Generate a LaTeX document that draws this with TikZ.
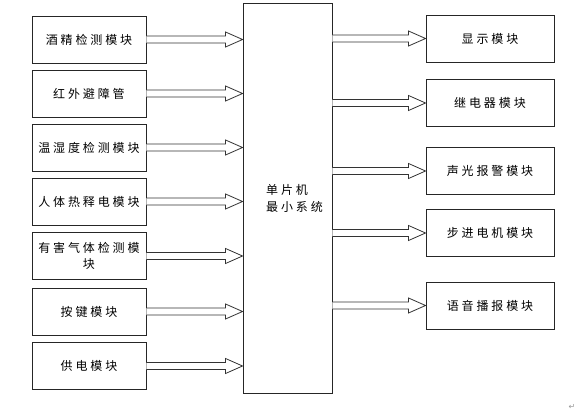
\documentclass[tikz,border=0pt]{standalone}
\usepackage{fontspec}
\newfontfamily\cjk[LetterSpace=24]{Noto Sans CJK SC}
\newfontfamily\dejavu{DejaVu Sans}
\usetikzlibrary{calc}
\newcommand\fatarrow[2]{%
  \draw[arrowline] ($(#1)+(0,3.5)$) -- ($(#2)+(-17,3.5)$) -- ($(#2)+(-17,7.5)$) -- (#2)
    -- ($(#2)+(-17,-7.5)$) -- ($(#2)+(-17,-3.5)$) -- ($(#1)+(0,-3.5)$);}
\begin{document}
\begin{tikzpicture}[x=1pt,y=-1pt,
  box/.style={draw=black!85, line width=0.9pt, inner sep=0pt, align=center,
    font=\cjk\fontsize{12}{16}\selectfont},
  lbox/.style={box, minimum width=114pt, minimum height=47pt},
  rbox/.style={box, minimum width=128pt, minimum height=47pt},
  arrowline/.style={draw=black!80, line width=0.8pt, fill=white, line join=miter}]
\useasboundingbox (0,0) rectangle (587,420);
% left modules
\node[lbox] (l1) at (89,39.5) {酒精检测模块};
\node[lbox] (l2) at (89,93.5) {红外避障管};
\node[lbox] (l3) at (89,147.5) {温湿度检测模块};
\node[lbox] (l4) at (89,201.5) {人体热释电模块};
\node[lbox] (l5) at (89,256) {有害气体检测模\\块};
\node[lbox] (l6) at (89,311.5) {按键模块};
\node[lbox] (l7) at (89,366) {供电模块};
% MCU
\node[box, minimum width=89pt, minimum height=390pt] (mcu) at (287.5,198.5) {};
\node[font=\cjk\fontsize{12}{17}\selectfont, align=left, anchor=west, inner sep=0pt] (mcut) at (266,198.5) {单片机\\最小系统};
% right modules
\node[rbox] (r1) at (490,38.5) {显示模块};
\node[rbox] (r2) at (490,103) {继电器模块};
\node[rbox] (r3) at (490,171) {声光报警模块};
\node[rbox] (r4) at (490,233) {步进电机模块};
\node[rbox] (r5) at (490,305.5) {语音播报模块};
% arrows
\foreach \i in {1,...,7} {\fatarrow{l\i.east}{l\i.east -| mcu.west}}
\foreach \i in {1,...,5} {\fatarrow{mcu.east |- r\i.west}{r\i.west}}
% paragraph mark
\node[font=\dejavu\fontsize{8}{8}\selectfont, text=black!40, inner sep=0pt] (pm) at (572,407) {↵};
\end{tikzpicture}
\end{document}
